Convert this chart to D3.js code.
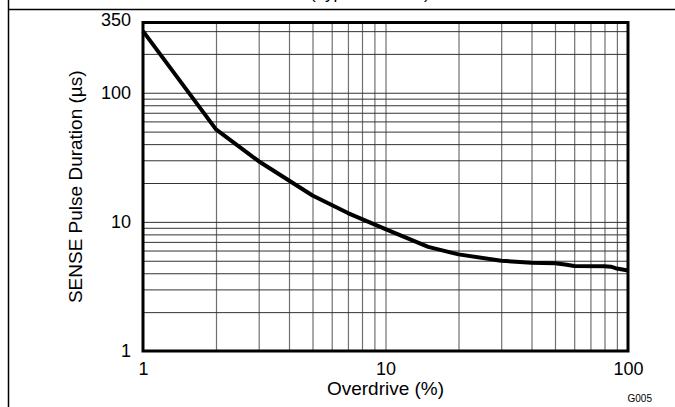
<!DOCTYPE html>
<html>
<head>
<meta charset="utf-8">
<script src="https://cdn.jsdelivr.net/npm/d3@7"></script>
<style>
  body { margin: 0; background: #fff; }
  svg { display: block; font-family: "Liberation Sans", Arial, sans-serif; }
</style>
</head>
<body>
<svg id="chart" width="675" height="407"></svg>
<script>
// Data (log-log)
const overdrive = [1, 2, 3, 5, 7, 10, 15, 20, 30, 40, 50, 55, 60, 80, 85, 90, 100];
const pulseDuration = [300, 52, 29.5, 16, 11.7, 8.8, 6.4, 5.6, 5.0, 4.82, 4.78, 4.68, 4.55, 4.53, 4.5, 4.35, 4.2];
const xTicks = [1, 10, 100];
const yTicks = [1, 10, 100, 350];
const xGridValues = [2, 3, 4, 5, 6, 7, 8, 9, 10, 20, 30, 40, 50, 60, 70, 80, 90];
const yGridValues = [2, 3, 4, 5, 6, 7, 8, 9, 10, 20, 30, 40, 50, 60, 70, 80, 90, 100, 200, 300];

const svg = d3.select('#chart');
const margin = { left: 143, top: 22.5, right: 47, bottom: 56 };
const width = 675 - margin.left - margin.right;
const height = 407 - margin.top - margin.bottom;

// Page frame and cut-off heading
svg.append('line')
  .attr('x1', 8.5).attr('x2', 8.5).attr('y1', 0).attr('y2', 407)
  .attr('stroke', '#000').attr('stroke-width', 1.5);
svg.append('line')
  .attr('x1', 8).attr('x2', 675).attr('y1', 9.5).attr('y2', 9.5)
  .attr('stroke', '#000').attr('stroke-width', 1.5);
svg.append('text')
  .attr('x', 310).attr('y', -1)
  .attr('font-size', 17)
  .text('(Typical Values)');

const g = svg.append('g')
  .attr('transform', `translate(${margin.left},${margin.top})`);

const x = d3.scaleLog().domain([1, 100]).range([0, width]);
const y = d3.scaleLog().domain([1, 350]).range([height, 0]);

// Grid
const xGrid = g.append('g')
  .attr('class', 'x-grid')
  .attr('transform', `translate(0,${height})`)
  .call(d3.axisBottom(x).tickValues(xGridValues).tickSize(-height).tickFormat(''));
xGrid.selectAll('line').attr('stroke', '#707070').attr('stroke-width', 1.2);

const yGrid = g.append('g')
  .attr('class', 'y-grid')
  .call(d3.axisLeft(y).tickValues(yGridValues).tickSize(-width).tickFormat(''));
yGrid.selectAll('line').attr('stroke', '#333').attr('stroke-width', 1);
g.selectAll('.x-grid .domain, .y-grid .domain').remove();

// Curve
const line = d3.line()
  .x((d, i) => x(overdrive[i]))
  .y(d => y(d));

g.append('path')
  .datum(pulseDuration)
  .attr('fill', 'none')
  .attr('stroke', '#000')
  .attr('stroke-width', 4)
  .attr('stroke-linejoin', 'round')
  .attr('d', line);

// Plot border
g.append('rect')
  .attr('x', 0).attr('y', 0)
  .attr('width', width).attr('height', height)
  .attr('fill', 'none')
  .attr('stroke', '#000')
  .attr('stroke-width', 3);

// Tick labels
const xAxis = g.append('g')
  .attr('transform', `translate(0,${height})`)
  .call(d3.axisBottom(x).tickValues(xTicks).tickSize(0).tickPadding(11).tickFormat(d3.format('d')));
xAxis.select('.domain').remove();
xAxis.selectAll('text')
  .attr('font-size', 18)
  .attr('font-family', '"Liberation Sans", Arial, sans-serif')
  .attr('fill', '#000');

const yAxis = g.append('g')
  .call(d3.axisLeft(y).tickValues(yTicks).tickSize(0).tickPadding(12).tickFormat(d3.format('d')));
yAxis.select('.domain').remove();
yAxis.selectAll('text')
  .attr('font-size', 18)
  .attr('font-family', '"Liberation Sans", Arial, sans-serif')
  .attr('fill', '#000');
yAxis.selectAll('.tick').filter(d => d === 350).select('text').attr('dy', '0.15em');

// Axis titles
svg.append('text')
  .attr('x', margin.left + width / 2)
  .attr('y', 395)
  .attr('text-anchor', 'middle')
  .attr('font-size', 19)
  .text('Overdrive (%)');

svg.append('text')
  .attr('transform', `translate(82,${margin.top + height / 2}) rotate(-90)`)
  .attr('text-anchor', 'middle')
  .attr('font-size', 19)
  .text('SENSE Pulse Duration (µs)');

svg.append('text')
  .attr('x', 652)
  .attr('y', 402)
  .attr('text-anchor', 'end')
  .attr('font-size', 10)
  .text('G005');
</script>
</body>
</html>
